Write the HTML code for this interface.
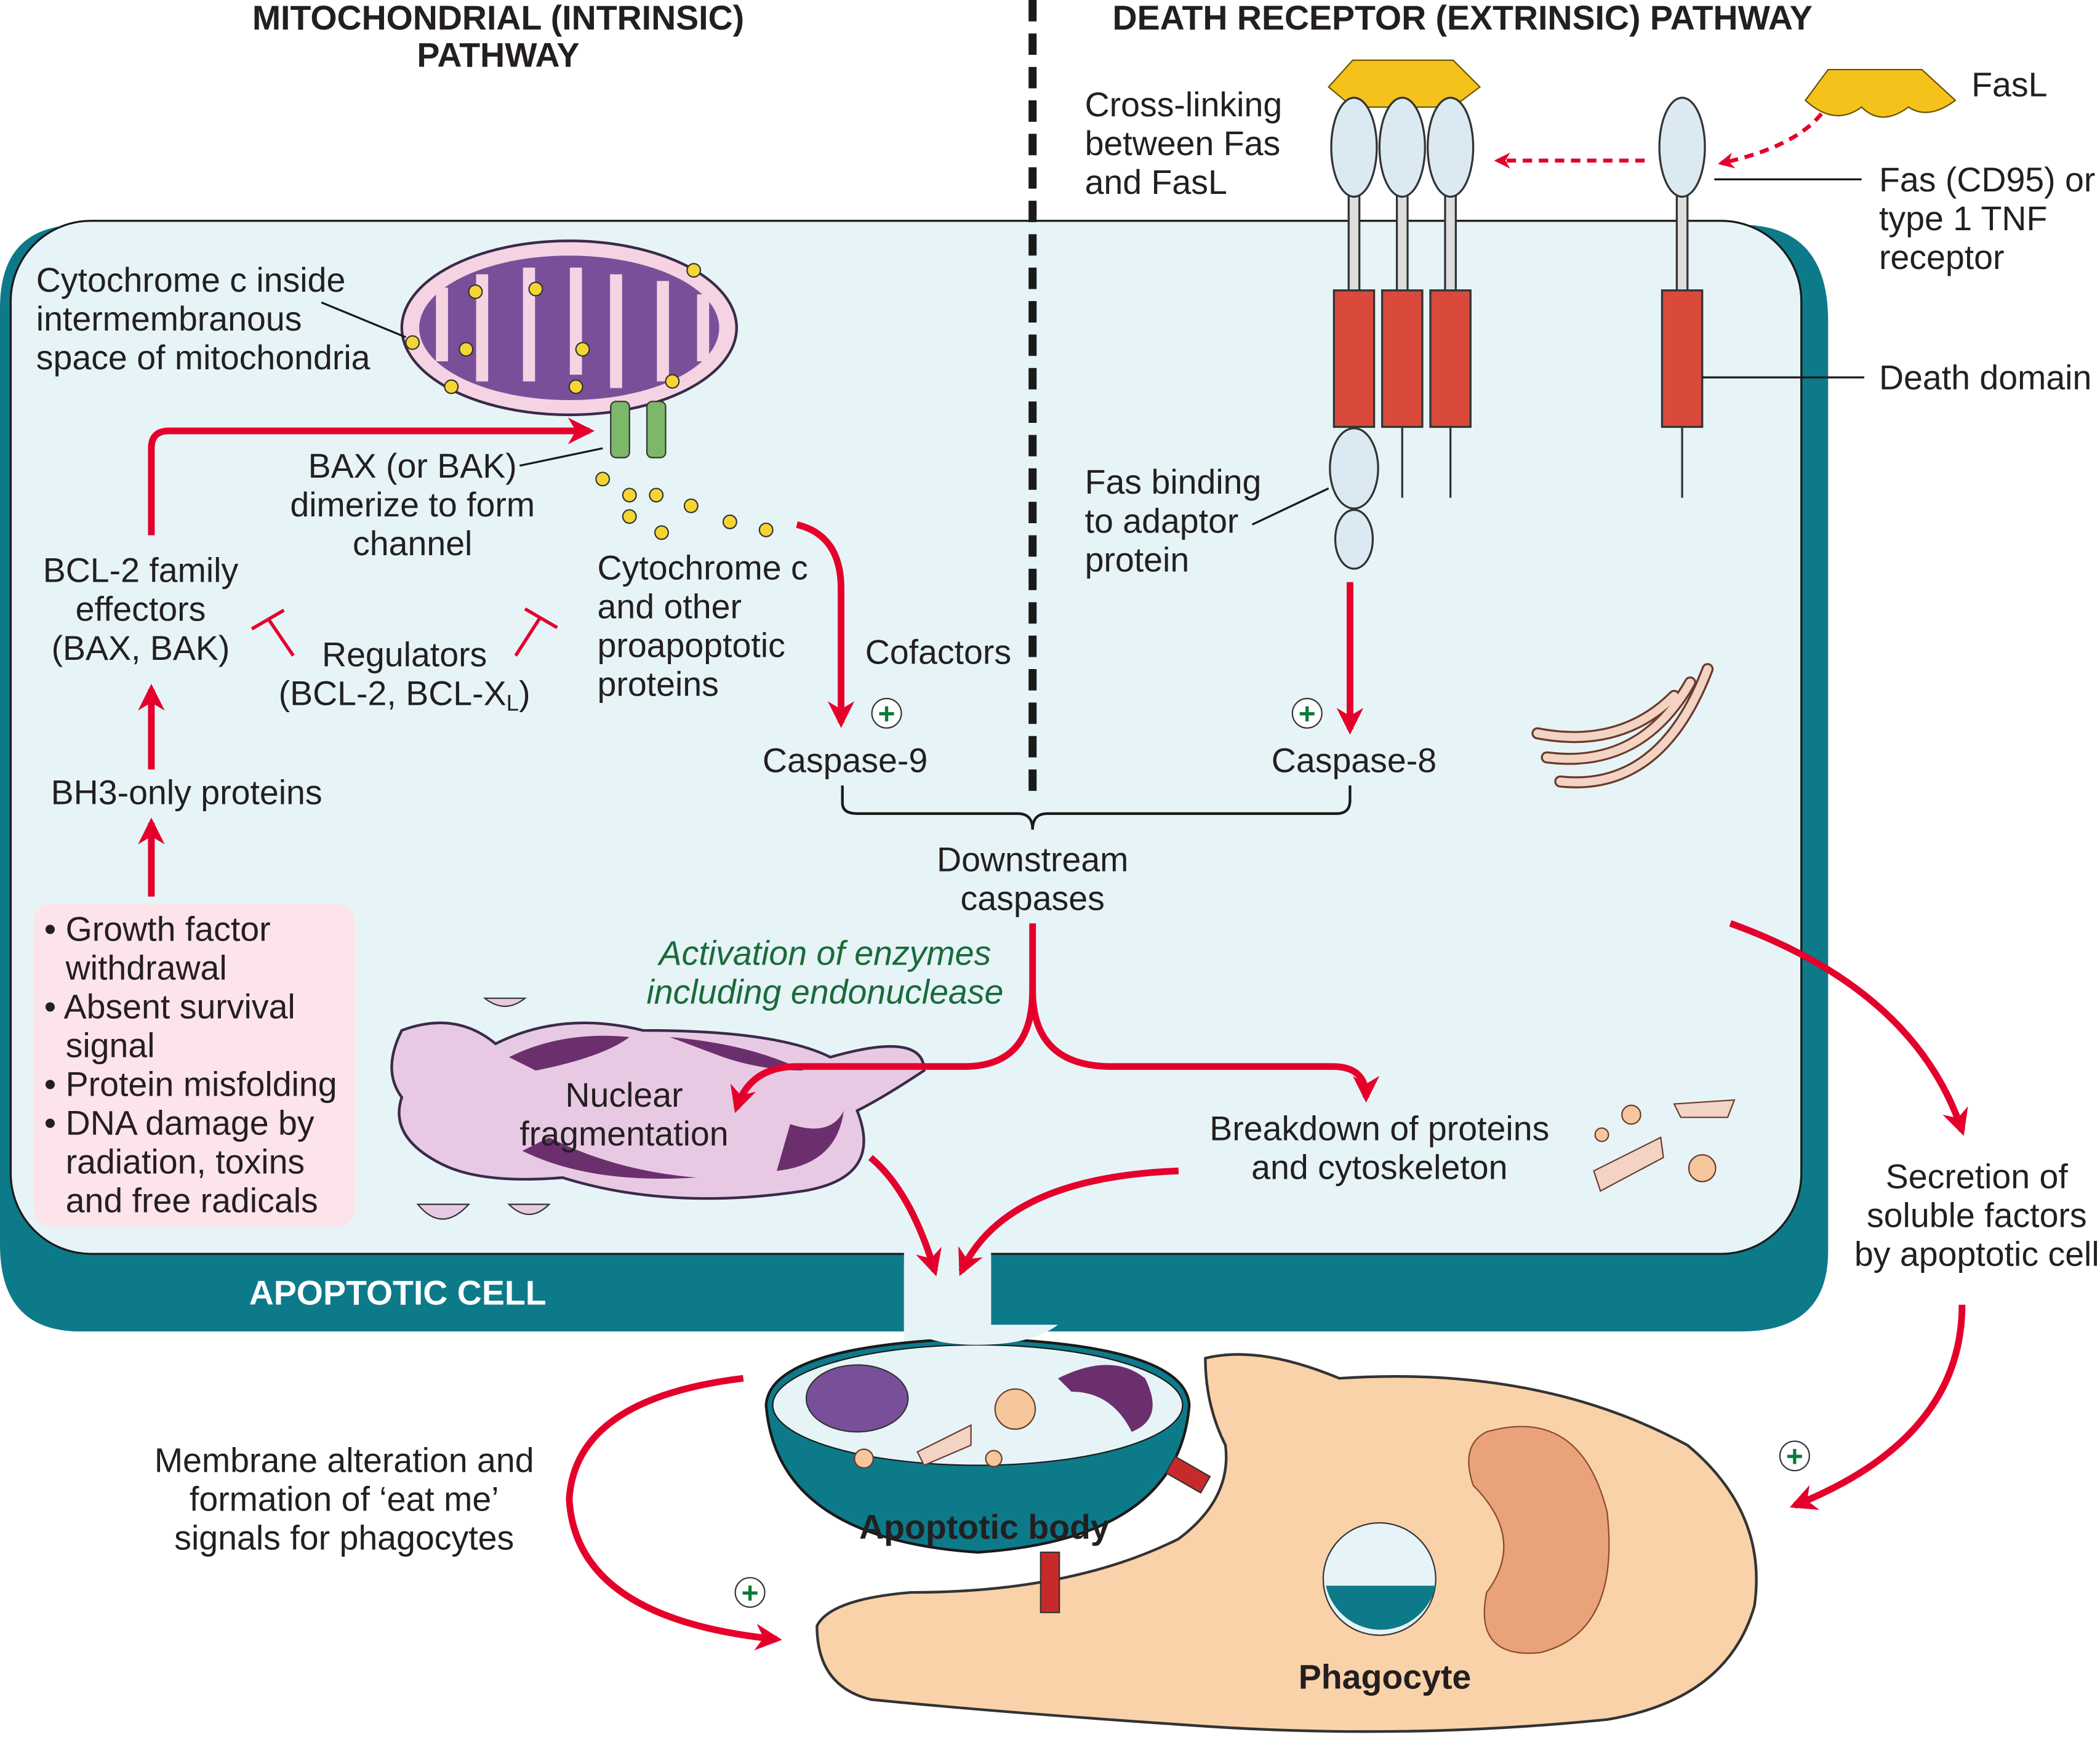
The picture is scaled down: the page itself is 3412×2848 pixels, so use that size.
<!DOCTYPE html>
<html><head><meta charset="utf-8"><style>
html,body{margin:0;padding:0;background:#fff}
svg{display:block}
text{font-family:"Liberation Sans",Arial,sans-serif;fill:#231f20}
</style></head><body>
<svg width="3412" height="2848" viewBox="0 0 1568 1310" preserveAspectRatio="none" xmlns="http://www.w3.org/2000/svg">
<defs>
<marker id="ar" viewBox="0 0 10 10" refX="8" refY="5" markerWidth="4" markerHeight="4" orient="auto-start-reverse"><path d="M0,0 L10,5 L0,10 L3,5z" fill="#e4002b"/></marker>
</defs>
<rect width="1568" height="1310" fill="#fff"/>
<path d="M60,168 H1300 Q1365,168 1365,240 V935 Q1365,995 1300,995 H740 V940 L675,940 V995 H60 Q0,995 0,930 V230 Q0,168 60,168Z" fill="#0d7a8a"/>
<rect x="8" y="165" width="1337" height="772" rx="60" fill="#e6f4f7" stroke="#1a1a1a" stroke-width="1.5"/>
<rect x="675" y="930" width="65" height="80" fill="#e6f4f7"/>
<text x="186" y="975" font-size="25.5" font-weight="bold" style="fill:#fff">APOPTOTIC CELL</text>
<line x1="771" y1="0" x2="771" y2="600" stroke="#1a1a1a" stroke-width="6" stroke-dasharray="16,9"/>
<text x="372" y="22" font-size="25.5" font-weight="bold" text-anchor="middle">MITOCHONDRIAL (INTRINSIC)</text>
<text x="372" y="50" font-size="25.5" font-weight="bold" text-anchor="middle">PATHWAY</text>
<text x="1092" y="22" font-size="25.5" font-weight="bold" text-anchor="middle">DEATH RECEPTOR (EXTRINSIC) PATHWAY</text>
<ellipse cx="425" cy="245" rx="125" ry="65" fill="#f6d3e2" stroke="#3a2a4a" stroke-width="2"/>
<ellipse cx="425" cy="245" rx="112" ry="54" fill="#7a4f9a"/>
<path d="M330,270 V215 M360,285 V205 M395,285 V200 M430,280 V200 M460,290 V205 M495,285 V210 M525,270 V220" stroke="#f6d3e2" stroke-width="9"/>
<g fill="#f5d533" stroke="#333" stroke-width="1">
<circle cx="355" cy="218" r="5"/><circle cx="400" cy="216" r="5"/><circle cx="518" cy="202" r="5"/><circle cx="308" cy="256" r="5"/><circle cx="348" cy="261" r="5"/><circle cx="435" cy="261" r="5"/><circle cx="337" cy="289" r="5"/><circle cx="430" cy="289" r="5"/><circle cx="502" cy="285" r="5"/>
<circle cx="450" cy="358" r="5"/><circle cx="470" cy="370" r="5"/><circle cx="490" cy="370" r="5"/><circle cx="516" cy="378" r="5"/><circle cx="470" cy="386" r="5"/><circle cx="494" cy="398" r="5"/><circle cx="545" cy="390" r="5"/><circle cx="572" cy="396" r="5"/>
</g>
<rect x="456" y="300" width="14" height="42" rx="4" fill="#7db76a" stroke="#333"/>
<rect x="483" y="300" width="14" height="42" rx="4" fill="#7db76a" stroke="#333"/>
<line x1="240" y1="226" x2="303" y2="252" stroke="#1a1a1a" stroke-width="1.5"/>
<text font-size="25.5"><tspan x="27" y="218">Cytochrome c inside</tspan><tspan x="27" y="247">intermembranous</tspan><tspan x="27" y="276">space of mitochondria</tspan></text>
<path d="M113,400 V335 Q113,322 126,322 H440" fill="none" stroke="#e4002b" stroke-width="5" marker-end="url(#ar)"/>
<line x1="388" y1="348" x2="450" y2="335" stroke="#1a1a1a" stroke-width="1.5"/>
<text font-size="25.5" text-anchor="middle"><tspan x="308" y="357">BAX (or BAK)</tspan><tspan x="308" y="386">dimerize to form</tspan><tspan x="308" y="415">channel</tspan></text>
<text font-size="25.5" text-anchor="middle"><tspan x="105" y="435">BCL-2 family</tspan><tspan x="105" y="464">effectors</tspan><tspan x="105" y="493">(BAX, BAK)</tspan></text>
<text font-size="25.5"><tspan x="446" y="433">Cytochrome c</tspan><tspan x="446" y="462">and other</tspan><tspan x="446" y="491">proapoptotic</tspan><tspan x="446" y="520">proteins</tspan></text>
<text font-size="25.5" x="302" y="498" text-anchor="middle">Regulators</text>
<text font-size="25.5" x="302" y="527" text-anchor="middle">(BCL-2, BCL-X<tspan font-size="17" dy="4">L</tspan><tspan dy="-4">)</tspan></text>
<path d="M219,490 L200,462 M188,470 L212,456 M385,490 L403,462 M392,455 L416,469" stroke="#e4002b" stroke-width="2.5"/>
<line x1="113" y1="575" x2="113" y2="515" stroke="#e4002b" stroke-width="5" marker-end="url(#ar)"/>
<text font-size="25.5" x="38" y="601">BH3-only proteins</text>
<line x1="113" y1="670" x2="113" y2="615" stroke="#e4002b" stroke-width="5" marker-end="url(#ar)"/>
<rect x="25" y="675" width="240" height="242" rx="14" fill="#fde3ea"/>
<text font-size="25.5"><tspan x="33" y="703">• Growth factor</tspan><tspan x="49" y="732">withdrawal</tspan><tspan x="33" y="761">• Absent survival</tspan><tspan x="49" y="790">signal</tspan><tspan x="33" y="819">• Protein misfolding</tspan><tspan x="33" y="848">• DNA damage by</tspan><tspan x="49" y="877">radiation, toxins</tspan><tspan x="49" y="906">and free radicals</tspan></text>
<path d="M595,392 Q628,400 628,440 V540" fill="none" stroke="#e4002b" stroke-width="5" marker-end="url(#ar)"/>
<text font-size="25.5" x="646" y="496">Cofactors</text>
<circle cx="662" cy="533" r="11" fill="#fff" stroke="#333"/><text x="662" y="541" font-size="22" font-weight="bold" text-anchor="middle" style="fill:#0a7a3a">+</text>
<text font-size="25.5" x="631" y="577" text-anchor="middle">Caspase-9</text>
<circle cx="976" cy="533" r="11" fill="#fff" stroke="#333"/><text x="976" y="541" font-size="22" font-weight="bold" text-anchor="middle" style="fill:#0a7a3a">+</text>
<text font-size="25.5" x="1011" y="577" text-anchor="middle">Caspase-8</text>
<path d="M629,587 V600 Q629,608 640,608 H760 Q771,608 771,620 Q771,608 782,608 H998 Q1008,608 1008,598 V587" fill="none" stroke="#1a1a1a" stroke-width="2"/>
<text font-size="25.5" text-anchor="middle"><tspan x="771" y="651">Downstream</tspan><tspan x="771" y="680">caspases</tspan></text>
<text font-size="25.5" text-anchor="middle" font-style="italic" style="fill:#1a6b3a"><tspan x="616" y="721">Activation of enzymes</tspan><tspan x="616" y="750">including endonuclease</tspan></text>
<path d="M300,770 Q340,755 370,780 Q420,755 480,770 Q580,770 620,790 Q690,770 690,800 Q660,820 640,830 Q660,880 600,890 Q500,905 420,880 Q360,885 330,870 Q290,850 300,820 Q285,800 300,770Z" fill="#e8c9e3" stroke="#3a2a4a" stroke-width="2"/>
<path d="M380,790 Q420,770 470,775 Q450,790 400,800Z M500,775 Q560,780 600,800 Q570,800 540,790Z M590,840 Q620,850 630,830 Q625,870 580,875Z M390,860 Q440,885 520,880 Q460,875 410,850Z" fill="#6c2f6e"/>
<path d="M771,690 V740 Q771,797 720,797 H595 Q560,797 550,828" fill="none" stroke="#e4002b" stroke-width="5" marker-end="url(#ar)"/>
<path d="M771,740 Q771,797 830,797 H995 Q1020,797 1020,820" fill="none" stroke="#e4002b" stroke-width="5" marker-end="url(#ar)"/>
<text font-size="25.5" text-anchor="middle"><tspan x="466" y="827">Nuclear</tspan><tspan x="466" y="856">fragmentation</tspan></text>
<path d="M362,746 Q377,758 392,746Z" fill="#e8c9e3" stroke="#333"/>
<path d="M312,900 Q330,922 350,900Z" fill="#e8c9e3" stroke="#333"/>
<path d="M380,900 Q395,915 410,900Z" fill="#e8c9e3" stroke="#333"/>
<text font-size="25.5" text-anchor="middle"><tspan x="1030" y="852">Breakdown of proteins</tspan><tspan x="1030" y="881">and cytoskeleton</tspan></text>
<path d="M650,865 Q680,890 698,950" fill="none" stroke="#e4002b" stroke-width="5" marker-end="url(#ar)"/>
<path d="M880,875 Q750,880 718,950" fill="none" stroke="#e4002b" stroke-width="5" marker-end="url(#ar)"/>
<g fill="none" stroke="#6b3a2a" stroke-width="9" stroke-linecap="round">
<path d="M1148,548 Q1210,560 1250,520"/><path d="M1155,566 Q1225,575 1262,510"/><path d="M1165,584 Q1240,592 1275,500"/>
</g>
<g fill="none" stroke="#f2d3c4" stroke-width="6" stroke-linecap="round">
<path d="M1148,548 Q1210,560 1250,520"/><path d="M1155,566 Q1225,575 1262,510"/><path d="M1165,584 Q1240,592 1275,500"/>
</g>
<circle cx="1218" cy="833" r="7" fill="#f6c79c" stroke="#6b3a2a"/><circle cx="1196" cy="848" r="5" fill="#f6c79c" stroke="#6b3a2a"/><circle cx="1271" cy="873" r="10" fill="#f6c79c" stroke="#6b3a2a"/>
<path d="M1250,825 L1295,822 L1290,835 L1255,835Z M1190,875 L1240,850 L1242,865 L1195,890Z" fill="#f2d3c4" stroke="#6b3a2a"/>
<path d="M992,65 L1010,45 H1085 L1105,65 L1085,80 H1010Z" fill="#f4c21b" stroke="#6b5200"/>
<path d="M1348,75 L1365,52 H1435 L1460,75 Q1440,90 1425,80 Q1405,95 1390,80 Q1370,95 1348,75Z" fill="#f4c21b" stroke="#6b5200"/>
<g stroke="#333" stroke-width="1.5">
<rect x="1007" y="135" width="8" height="85" fill="#ddd"/><rect x="1043" y="135" width="8" height="85" fill="#ddd"/><rect x="1079" y="135" width="8" height="85" fill="#ddd"/><rect x="1252" y="135" width="8" height="85" fill="#ddd"/>
<ellipse cx="1011" cy="110" rx="17" ry="37" fill="#dbe9f3"/><ellipse cx="1047" cy="110" rx="17" ry="37" fill="#dbe9f3"/><ellipse cx="1083" cy="110" rx="17" ry="37" fill="#dbe9f3"/><ellipse cx="1256" cy="110" rx="17" ry="37" fill="#dbe9f3"/>
<rect x="996" y="217" width="30" height="102" fill="#d94a3c"/><rect x="1032" y="217" width="30" height="102" fill="#d94a3c"/><rect x="1068" y="217" width="30" height="102" fill="#d94a3c"/><rect x="1241" y="217" width="30" height="102" fill="#d94a3c"/>
<line x1="1047" y1="319" x2="1047" y2="372"/><line x1="1083" y1="319" x2="1083" y2="372"/><line x1="1256" y1="319" x2="1256" y2="372"/>
<ellipse cx="1011" cy="350" rx="18" ry="30" fill="#dbe9f3"/><ellipse cx="1011" cy="403" rx="14" ry="22" fill="#dbe9f3"/>
</g>
<line x1="1228" y1="120" x2="1118" y2="120" stroke="#e4002b" stroke-width="3" stroke-dasharray="7,5" marker-end="url(#ar)"/>
<path d="M1360,85 Q1340,110 1285,122" fill="none" stroke="#e4002b" stroke-width="3" stroke-dasharray="7,5" marker-end="url(#ar)"/>
<line x1="1280" y1="134" x2="1390" y2="134" stroke="#1a1a1a" stroke-width="1.5"/>
<line x1="1271" y1="282" x2="1392" y2="282" stroke="#1a1a1a" stroke-width="1.5"/>
<line x1="935" y1="392" x2="992" y2="365" stroke="#1a1a1a" stroke-width="1.5"/>
<text font-size="25.5"><tspan x="810" y="87">Cross-linking</tspan><tspan x="810" y="116">between Fas</tspan><tspan x="810" y="145">and FasL</tspan></text>
<text font-size="25.5" x="1472" y="72">FasL</text>
<text font-size="25.5"><tspan x="1403" y="143">Fas (CD95) or</tspan><tspan x="1403" y="172">type 1 TNF</tspan><tspan x="1403" y="201">receptor</tspan></text>
<text font-size="25.5" x="1403" y="291">Death domain</text>
<text font-size="25.5"><tspan x="810" y="369">Fas binding</tspan><tspan x="810" y="398">to adaptor</tspan><tspan x="810" y="427">protein</tspan></text>
<line x1="1008" y1="435" x2="1008" y2="545" stroke="#e4002b" stroke-width="5" marker-end="url(#ar)"/>
<path d="M1292,690 Q1430,740 1465,845" fill="none" stroke="#e4002b" stroke-width="5" marker-end="url(#ar)"/>
<text font-size="25.5" text-anchor="middle"><tspan x="1476" y="888">Secretion of</tspan><tspan x="1476" y="917">soluble factors</tspan><tspan x="1476" y="946">by apoptotic cell</tspan></text>
<path d="M1465,975 Q1465,1075 1340,1125" fill="none" stroke="#e4002b" stroke-width="5" marker-end="url(#ar)"/>
<circle cx="1340" cy="1088" r="11" fill="#fff" stroke="#333"/><text x="1340" y="1096" font-size="22" font-weight="bold" text-anchor="middle" style="fill:#0a7a3a">+</text>
<path d="M900,1015 Q940,1005 1000,1030 Q1150,1020 1260,1080 Q1320,1130 1310,1200 Q1290,1270 1200,1285 Q1050,1300 900,1290 Q750,1280 650,1270 Q610,1260 610,1215 Q620,1195 680,1190 Q800,1190 880,1150 Q920,1120 915,1080 Q900,1050 900,1015Z" fill="#f9d2aa" stroke="#333" stroke-width="2"/>
<path d="M1110,1070 Q1180,1050 1200,1130 Q1210,1220 1150,1235 Q1100,1240 1110,1190 Q1140,1150 1100,1110 Q1090,1080 1110,1070Z" fill="#e9a27a" stroke="#8a4a2a"/>
<circle cx="1030" cy="1180" r="42" fill="#e6f4f7" stroke="#333"/>
<path d="M990,1185 A42,42 0 0,0 1072,1185Z" fill="#0d7a8a"/>
<text x="1034" y="1262" font-size="25.5" font-weight="bold" text-anchor="middle">Phagocyte</text>
<path d="M572,1050 Q575,1005 730,1000 Q885,1005 888,1050 Q880,1150 730,1160 Q580,1150 572,1050Z" fill="#0d7a8a" stroke="#1a1a1a" stroke-width="2"/>
<ellipse cx="730" cy="1050" rx="153" ry="45" fill="#e6f4f7" stroke="#1a1a1a"/>
<path d="M675,990 Q690,1005 730,1005 Q770,1005 790,990" fill="#e6f4f7"/>
<ellipse cx="640" cy="1045" rx="38" ry="25" fill="#7a4f9a" stroke="#333"/>
<circle cx="758" cy="1053" r="15" fill="#f6c79c" stroke="#6b3a2a"/><circle cx="645" cy="1090" r="7" fill="#f6c79c" stroke="#6b3a2a"/><circle cx="742" cy="1090" r="6" fill="#f6c79c" stroke="#6b3a2a"/>
<path d="M790,1030 Q830,1010 855,1030 Q870,1060 845,1070 Q830,1040 800,1040Z" fill="#6c2f6e"/>
<path d="M685,1085 L725,1065 L725,1080 L690,1095Z" fill="#f2d3c4" stroke="#6b3a2a"/>
<text x="735" y="1150" font-size="25.5" font-weight="bold" text-anchor="middle">Apoptotic body</text>
<rect x="872" y="1095" width="30" height="14" fill="#c72a2a" stroke="#333" transform="rotate(30 887 1102)"/>
<rect x="777" y="1160" width="14" height="45" fill="#c72a2a" stroke="#333"/>
<path d="M555,1030 Q430,1045 425,1120 Q430,1210 580,1225" fill="none" stroke="#e4002b" stroke-width="5" marker-end="url(#ar)"/>
<circle cx="560" cy="1190" r="11" fill="#fff" stroke="#333"/><text x="560" y="1198" font-size="22" font-weight="bold" text-anchor="middle" style="fill:#0a7a3a">+</text>
<text font-size="25.5" text-anchor="middle"><tspan x="257" y="1100">Membrane alteration and</tspan><tspan x="257" y="1129">formation of ‘eat me’</tspan><tspan x="257" y="1158">signals for phagocytes</tspan></text>
</svg>
</body></html>
